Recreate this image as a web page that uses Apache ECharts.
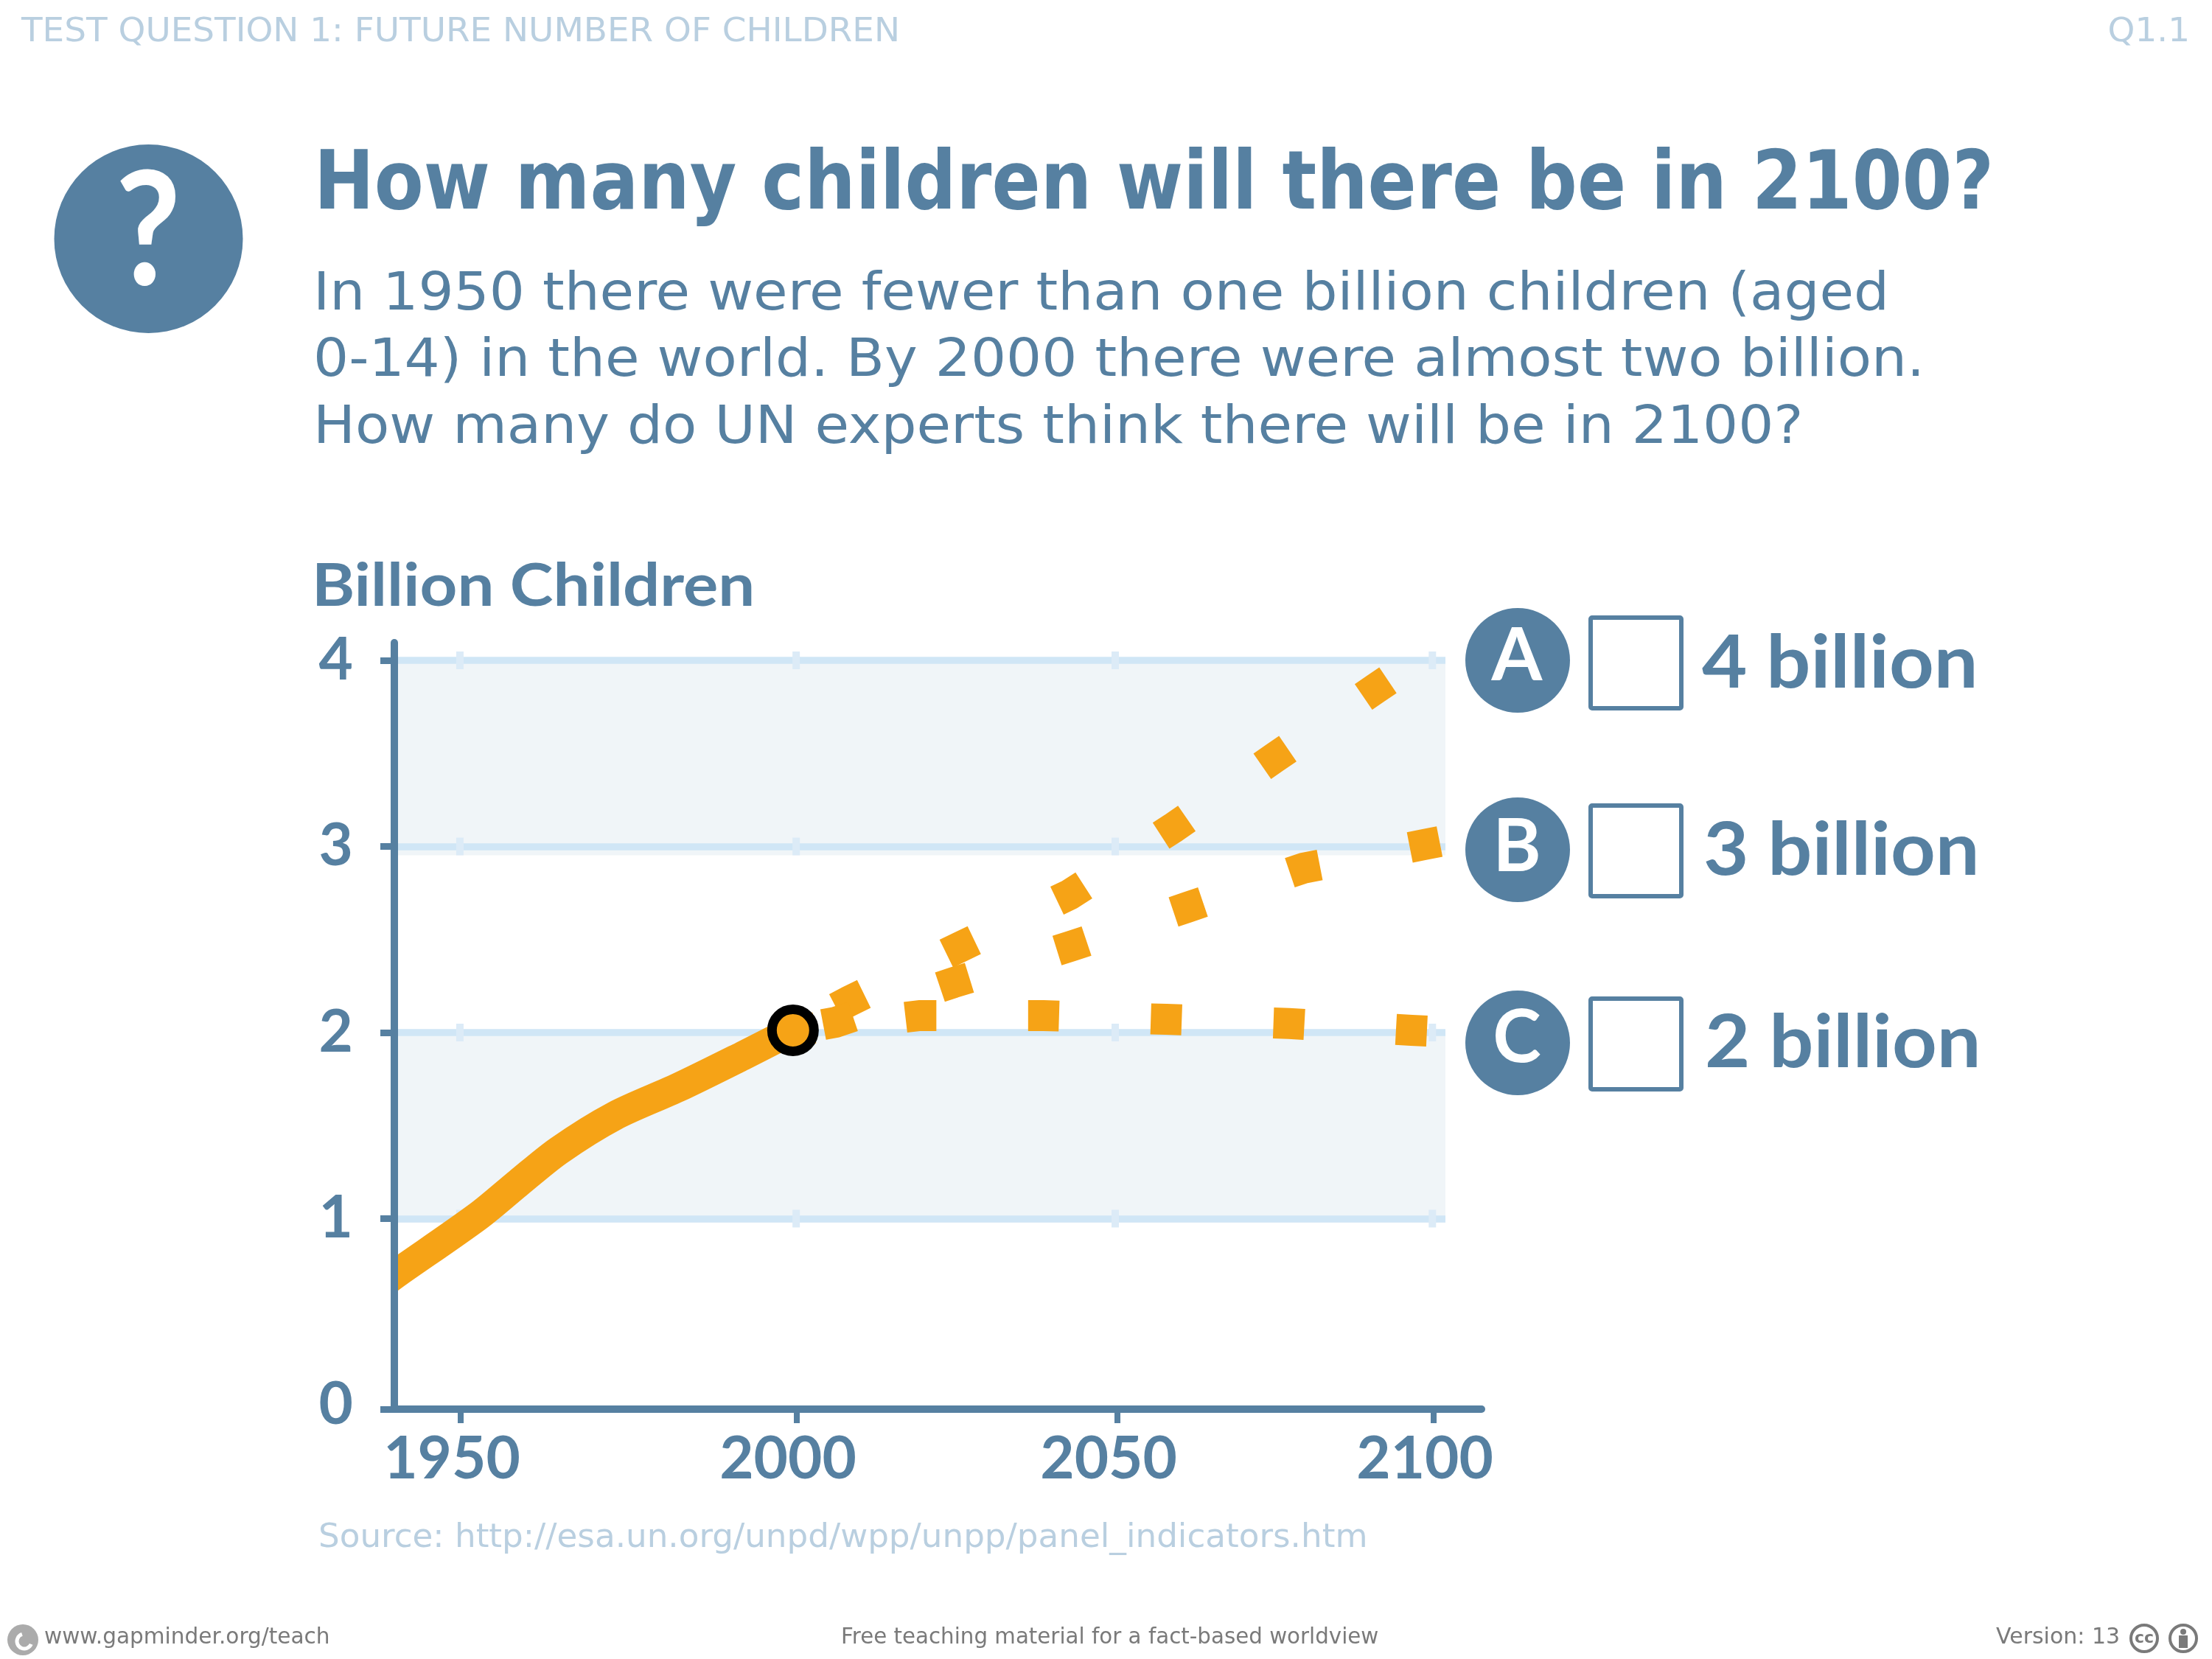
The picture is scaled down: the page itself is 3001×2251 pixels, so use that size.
<!DOCTYPE html>
<html>
<head>
<meta charset="utf-8">
<title>How many children will there be in 2100?</title>
<script src="https://cdn.jsdelivr.net/npm/echarts@6/dist/echarts.min.js"></script>
<style>
  html, body { margin: 0; padding: 0; background: #fff; }
  #chart { width: 3001px; height: 2251px; }
</style>
</head>
<body>
<div id="chart"></div>
<script>
// 历史曲线
const pastYears = [1936, 1937.5, 1950, 1956.3, 1962.6, 1971.4, 1981.4, 1991.4, 1999.4]
const pastValues = [0.677, 0.714, 1.014, 1.192, 1.365, 1.552, 1.705, 1.873, 2.012]

// projections: the line starts at the 2000 marker, then one vertex per dash
const highYears = [1999.42, 2008.31, 2025.58, 2042.82, 2059.07, 2074.95, 2090.83, 2092.82]
const highValues = [2.012, 2.170, 2.459, 2.741, 3.099, 3.475, 3.847, 3.893]
const midYears = [1999.42, 2006.05, 2024.6, 2043.06, 2061.34, 2079.6, 2098.54, 2100.93]
const midValues = [2.012, 2.055, 2.268, 2.464, 2.673, 2.884, 3.010, 3.026]
const lowYears = [1999.42, 2019.33, 2038.74, 2057.99, 2077.28, 2096.53, 2098.96]
const lowValues = [2.012, 2.091, 2.091, 2.071, 2.048, 2.012, 2.008]

// the ticks in the picture are not evenly spaced, so they sit at these axis positions
const xTickValues = [1947.22, 2000, 2050.35, 2100]
const xTickLabels = ['1950', '2000', '2050', '2100']
const stubValues = [1947.1, 1999.9, 2050, 2099.8]
const yTickValues = [-0.024, 1, 2, 3, 4]
const yLabelValues = [0, 1, 2, 3, 4]
const gridValues = [1, 2, 3, 4]
const bandRanges = [[0.978, 2], [2.952, 4]]

const optionLetters = ['A', 'B', 'C']
const optionLabels = ['4 billion', '3 billion', '2 billion']
const bodyLines = [
    'In 1950 there were fewer than one billion children (aged',
    '0-14) in the world. By 2000 there were almost two billion.',
    'How many do UN experts think there will be in 2100?'
]

const BLUE = '#5680a1'
const PALE = '#b9cfe0'
const GREY = '#7a7a7a'
const ORANGE = '#f6a316'
const GRIDLINE = '#d0e6f6'
const STUB = '#dcebf7'
const BAND = '#f0f5f8'
const BODY_FONT = '"DejaVu Sans"'
const BOLD_FONT = 'Lato'

const xMin = 1936.806
const xMax = 2107.52
const gridEnd = 2101.85
const yMin = -0.024
const yMax = 4.095

const zip = (xs, ys) => xs.map((x, i) => [x, ys[i]])

// the slide's fonts are wider than the installed ones, scaleX makes up for it
const text = (str, x, y, size, fill, extra = {}) => {
    const { scaleX = 1, ...style } = extra
    return {
        type: 'text',
        silent: true,
        z: 10,
        x,
        y,
        scaleX,
        style: Object.assign({
            text: str,
            fill,
            fontFamily: BODY_FONT,
            fontSize: size,
            textAlign: 'left',
            textVerticalAlign: 'middle'
        }, style)
    }
}

const boldText = (str, x, y, size, fill, extra) =>
    text(str, x, y, size, fill, Object.assign({ fontFamily: BOLD_FONT, fontWeight: 'bold' }, extra))

const circle = (cx, cy, r, style) => ({
    type: 'circle', silent: true, z: 9, shape: { cx, cy, r }, style
})

const optionY = [896, 1153, 1415]
const letterY = [891, 1150, 1409]
const boxY = [838, 1093, 1355]
const optionTextX = [2309, 2311, 2313]
const optionTextY = [901, 1155, 1416]

const optionGraphics = []
optionLetters.forEach((letter, i) => {
    optionGraphics.push(circle(2059, optionY[i], 71, { fill: BLUE }))
    optionGraphics.push(boldText(letter, 2058, letterY[i], 99, '#fff', { textAlign: 'center' }))
    optionGraphics.push({
        type: 'rect', silent: true, z: 9,
        shape: { x: 2158, y: boxY[i], width: 123, height: 123, r: 2 },
        style: { fill: '#fff', stroke: BLUE, lineWidth: 6 }
    })
    optionGraphics.push(boldText(optionLabels[i], optionTextX[i], optionTextY[i], 100, BLUE, { scaleX: 1.06 }))
})

const bodyGraphics = bodyLines.map((line, i) =>
    text(line, 425, 401 + i * 90.5, 72, BLUE, { scaleX: 1.051 }))

const footerGraphics = [
    // gapminder logo
    circle(31, 2225, 21, { fill: '#ababab' }),
    {
        type: 'arc', silent: true, z: 10,
        shape: { cx: 33, cy: 2227, r: 10, startAngle: 0.4, endAngle: 4.4 },
        style: { fill: 'none', stroke: '#fff', lineWidth: 5 }
    },
    text('www.gapminder.org/teach', 60, 2222, 30, GREY, { scaleX: 0.985 }),
    text('Free teaching material for a fact-based worldview', 1141, 2222, 30, GREY, { scaleX: 0.977 }),
    text('Version: 13', 2708, 2222, 30, GREY),
    // cc / by badges
    circle(2909, 2223, 18, { fill: '#fff', stroke: GREY, lineWidth: 4 }),
    text('cc', 2909, 2223, 22, GREY, { textAlign: 'center', fontWeight: 'bold' }),
    circle(2962, 2223, 18, { fill: '#fff', stroke: GREY, lineWidth: 4 }),
    circle(2962, 2214, 4, { fill: GREY }),
    { type: 'rect', silent: true, z: 10, shape: { x: 2956, y: 2219, width: 12, height: 17 }, style: { fill: GREY } }
]

const graphics = [
    // the line series clip is wider than the grid, this hides the end left of the axis
    { type: 'rect', silent: true, z: 4, shape: { x: 500, y: 1680, width: 31, height: 110 }, style: { fill: '#fff' } },
    text('TEST QUESTION 1: FUTURE NUMBER OF CHILDREN', 29, 45, 44, PALE, { scaleX: 1.065 }),
    text('Q1.1', 2971, 45, 44, PALE, { textAlign: 'right', scaleX: 1.065 }),
    circle(201.5, 324, 128, { fill: BLUE }),
    boldText('?', 201, 318, 215, '#fff', { textAlign: 'center', scaleX: 0.9 }),
    text('How many children will there be in 2100?', 426, 254, 111, BLUE, { fontWeight: 'bold', scaleX: 0.879 }),
    ...bodyGraphics,
    boldText('Billion Children', 423, 796, 80, BLUE, { scaleX: 1.107 }),
    ...optionGraphics,
    text('Source: http://esa.un.org/unpd/wpp/unpp/panel_indicators.htm', 432, 2088, 44, PALE, { scaleX: 1.028 }),
    ...footerGraphics
]

const dashSeries = (name, data, dashOffset) => ({
    name,
    type: 'line',
    data,
    z: 3,
    symbol: 'none',
    silent: true,
    animation: false,
    lineStyle: {
        color: ORANGE,
        width: 42,
        type: [42, 124.5],
        dashOffset,
        cap: 'butt',
        join: 'miter'
    }
})

const option = {
    backgroundColor: '#fff',
    animation: false,
    grid: { left: 535, top: 872, width: 1475, height: 1040 },
    xAxis: {
        type: 'value',
        min: xMin,
        max: xMax,
        z: 5,
        splitLine: { show: false },
        axisLine: { onZero: false, lineStyle: { color: BLUE, width: 10 } },
        axisTick: {
            customValues: xTickValues,
            length: 19,
            lineStyle: { color: BLUE, width: 8 }
        },
        axisLabel: {
            customValues: xTickValues,
            formatter: (value) => xTickLabels[xTickValues.indexOf(value)],
            margin: 28,
            color: BLUE,
            fontFamily: BOLD_FONT,
            fontWeight: 'bold',
            fontSize: 80,
            padding: [0, 24, 0, 0]
        }
    },
    yAxis: {
        type: 'value',
        min: yMin,
        max: yMax,
        z: 5,
        splitLine: { show: false },
        axisLine: { onZero: false, lineStyle: { color: BLUE, width: 10 } },
        axisTick: {
            customValues: yTickValues,
            length: 19,
            lineStyle: { color: BLUE, width: 9 }
        },
        axisLabel: {
            customValues: yLabelValues,
            margin: 56,
            color: BLUE,
            fontFamily: BOLD_FONT,
            fontWeight: 'bold',
            fontSize: 80,
            padding: [0, 0, 18, 0]
        }
    },
    series: [
        {
            name: 'Children',
            type: 'line',
            data: zip(pastYears, pastValues),
            smooth: 0.3,
            z: 3,
            symbol: 'none',
            silent: true,
            lineStyle: { color: ORANGE, width: 40, cap: 'butt' },
            markArea: {
                silent: true,
                z: 1,
                itemStyle: { color: BAND },
                data: bandRanges.map((r) => [
                    { coord: [xMin, r[1]] },
                    { coord: [gridEnd, r[0]] }
                ])
            },
            markLine: {
                silent: true,
                z: 1,
                symbol: 'none',
                label: { show: false },
                lineStyle: { color: GRIDLINE, width: 9.5, type: 'solid' },
                data: gridValues.map((v) => [
                    { coord: [xMin, v] },
                    { coord: [gridEnd, v] }
                ])
            }
        },
        {
            name: 'stubs',
            type: 'scatter',
            z: 2,
            silent: true,
            symbol: 'rect',
            symbolSize: [10, 24],
            itemStyle: { color: STUB, opacity: 1 },
            data: gridValues.flatMap((v) => stubValues.map((x) => [x, v]))
        },
        dashSeries('High', zip(highYears, highValues), 100.5),
        dashSeries('Medium', zip(midYears, midValues), 125),
        dashSeries('Low', zip(lowYears, lowValues), 13),
        {
            name: '2000',
            type: 'scatter',
            z: 4,
            silent: true,
            symbol: 'circle',
            symbolSize: 57,
            itemStyle: { color: ORANGE, borderColor: '#000', borderWidth: 13, opacity: 1 },
            data: [[pastYears[pastYears.length - 1], pastValues[pastValues.length - 1]]]
        }
    ],
    graphic: graphics
}

const myChart = echarts.init(document.getElementById('chart'), null, { renderer: 'canvas' })
myChart.setOption(option)
</script>
</body>
</html>
